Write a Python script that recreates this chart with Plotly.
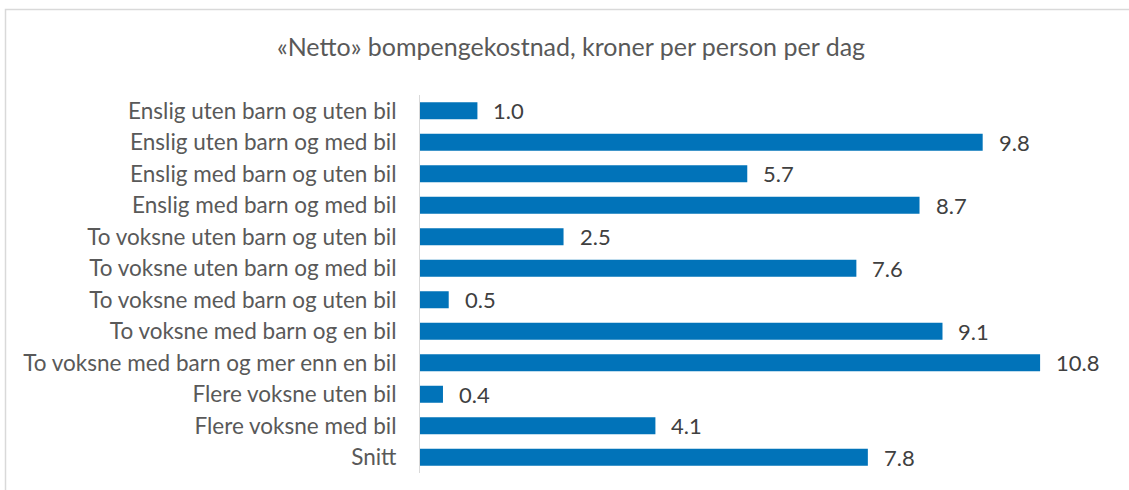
import plotly.graph_objects as go

categories = [
    "Enslig uten barn og uten bil",
    "Enslig uten barn og med bil",
    "Enslig med barn og uten bil",
    "Enslig med barn og med bil",
    "To voksne uten barn og uten bil",
    "To voksne uten barn og med bil",
    "To voksne med barn og uten bil",
    "To voksne med barn og en bil",
    "To voksne med barn og mer enn en bil",
    "Flere voksne uten bil",
    "Flere voksne med bil",
    "Snitt",
]
values = [1.0, 9.8, 5.7, 8.7, 2.5, 7.6, 0.5, 9.1, 10.8, 0.4, 4.1, 7.8]
title_text = "«Netto» bompengekostnad, kroner per person per dag"

FONT = "Lato, Calibri, Carlito, sans-serif"
BAR = "#0173B9"

fig = go.Figure()
fig.add_trace(go.Bar(
    x=values,
    y=categories,
    orientation="h",
    marker=dict(color=BAR, line=dict(width=0)),
    width=0.54,
    hoverinfo="x+y",
))

annotations = []
for c, v in zip(categories, values):
    annotations.append(dict(
        x=v, y=c, xref="x", yref="y",
        text=f"{v:.1f}", showarrow=False,
        xanchor="left", yanchor="middle", xshift=14,
        font=dict(family=FONT, size=22, color="#404040"),
    ))

L, R, T, B = 420, 20, 95, 17
W, H = 1129, 490
pw, ph = W - L - R, H - T - B

fig.update_layout(
    width=W, height=H,
    margin=dict(l=L, r=R, t=T, b=B, pad=0),
    paper_bgcolor="white",
    plot_bgcolor="white",
    showlegend=False,
    title=dict(
        text=title_text,
        x=571 / W, xref="container", xanchor="center",
        y=1 - 47 / H, yref="container", yanchor="middle",
        font=dict(family=FONT, size=25, color="#595959"),
    ),
    xaxis=dict(
        range=[0, 12], showgrid=False, showticklabels=False,
        zeroline=False, showline=False, ticks="",
    ),
    yaxis=dict(
        categoryorder="array", categoryarray=categories,
        autorange="reversed",
        showgrid=False, zeroline=False,
        showline=True, linecolor="#D9D9D9", linewidth=1,
        ticks="", ticklabelstandoff=18,
        tickfont=dict(family=FONT, size=22.5, color="#595959"),
    ),
    annotations=annotations,
    shapes=[
        dict(
            type="rect", xref="paper", yref="paper",
            x0=(5.5 - L) / pw, x1=(W + 10 - L) / pw,
            y0=-(B + 10) / ph, y1=1 + (T - 9.5) / ph,
            line=dict(color="#D9D9D9", width=1.5),
            fillcolor="rgba(0,0,0,0)", layer="below",
        )
    ],
)

fig.write_html(
    "out.html",
    config={"displayModeBar": False},
    post_script="document.body.style.margin='0';document.body.style.overflow='hidden';",
)
